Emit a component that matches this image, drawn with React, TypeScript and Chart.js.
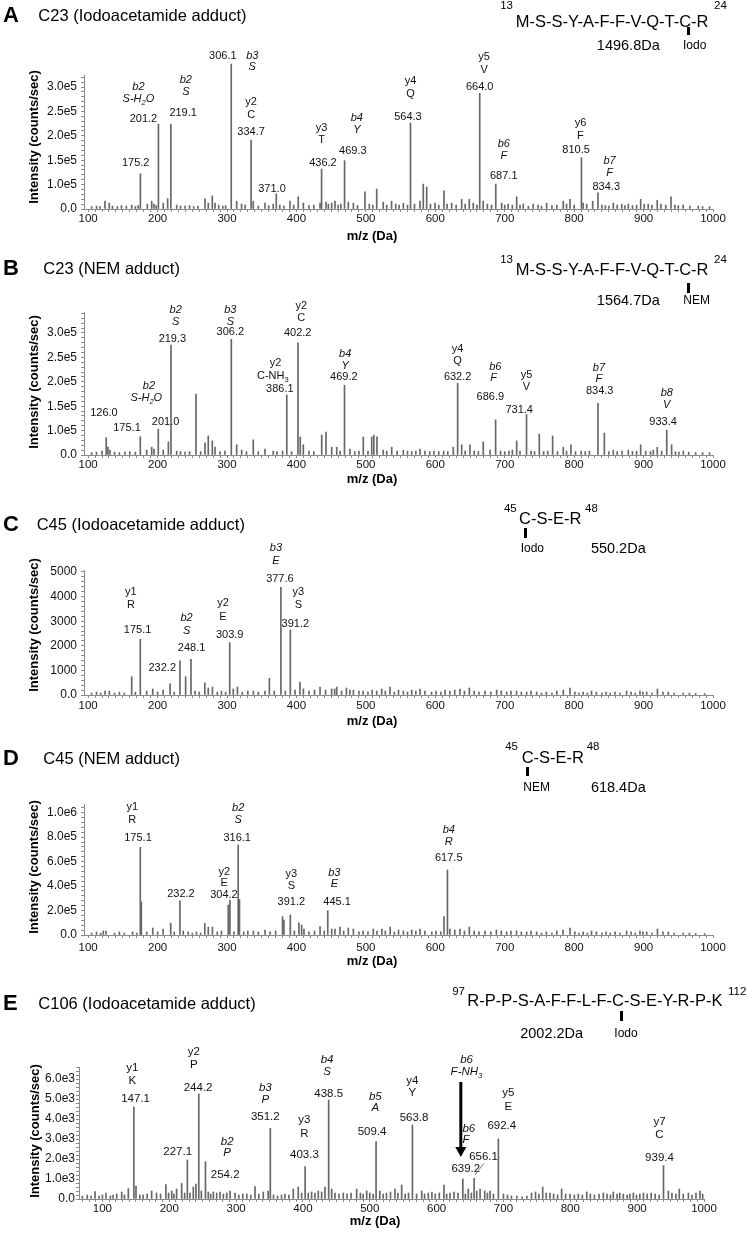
import React, { useEffect, useRef } from "react";
import { Chart, registerables } from "chart.js";
Chart.register(...registerables);

const FONT = "'Liberation Sans', Arial, Helvetica, sans-serif";
Chart.defaults.font.family = FONT;
const BAR_COLOR = "#666666";
const AXIS_COLOR = "#8a8a8a";
const X_AXIS_H = 20;

// ---------- DATA: peaks as [m/z, intensity (counts/sec)] ----------
const PEAKS_A: [number, number][] = [
  [105,0.55e5],[112,0.56e5],[117,0.55e5],[124.2,0.66e5],[130.4,0.62e5],[135,0.56e5],[142,0.55e5],[148,0.57e5],[155,0.56e5],[162.7,0.58e5],[168,0.55e5],[172,0.57e5],[175.2,1.22e5],[185.2,0.60e5],[191.5,0.66e5],[194.8,0.60e5],[198,0.57e5],[201.2,2.24e5],[208.2,0.62e5],[214.5,0.71e5],[219.1,2.24e5],[227.5,0.58e5],[233,0.56e5],[239.5,0.56e5],[246,0.57e5],[252,0.55e5],[258,0.56e5],[268.3,0.71e5],[273,0.62e5],[278.8,0.77e5],[282.7,0.62e5],[288,0.58e5],[294,0.56e5],[298,0.57e5],[306.1,3.47e5],[313.9,0.66e5],[321,0.60e5],[326,0.58e5],[334.7,1.91e5],[337.8,0.66e5],[345,0.56e5],[354.7,0.62e5],[360,0.57e5],[366.6,0.60e5],[371.0,0.81e5],[376,0.58e5],[382,0.56e5],[390.7,0.66e5],[396,0.58e5],[402.6,0.75e5],[409.9,0.62e5],[418,0.57e5],[425,0.58e5],[434,0.62e5],[436.2,1.32e5],[442.6,0.64e5],[446,0.60e5],[450.8,0.62e5],[455.5,0.66e5],[460,0.58e5],[464,0.60e5],[469.3,1.49e5],[474.7,0.64e5],[482,0.62e5],[488,0.57e5],[498.7,0.85e5],[505,0.60e5],[510,0.58e5],[515.6,0.91e5],[525,0.64e5],[530,0.58e5],[537,0.66e5],[543,0.60e5],[548,0.58e5],[554,0.62e5],[560,0.58e5],[564.3,2.26e5],[570,0.60e5],[578,0.66e5],[582.7,1.01e5],[587.6,0.95e5],[593,0.60e5],[599.5,0.62e5],[605,0.58e5],[612.5,0.87e5],[617,0.60e5],[623.6,0.62e5],[630,0.58e5],[638,0.70e5],[643,0.60e5],[649,0.70e5],[654.7,0.62e5],[660,0.58e5],[664.0,2.87e5],[669,0.66e5],[675,0.60e5],[681,0.58e5],[687.1,1.01e5],[695.6,0.62e5],[700,0.58e5],[705,0.60e5],[711,0.58e5],[717.2,0.75e5],[722,0.58e5],[726.7,0.60e5],[734,0.56e5],[741,0.60e5],[748,0.58e5],[753,0.56e5],[760.4,0.62e5],[768,0.57e5],[775,0.58e5],[784.3,0.66e5],[789,0.60e5],[794,0.70e5],[800,0.58e5],[810.5,1.55e5],[813,0.62e5],[818,0.60e5],[826.7,0.66e5],[834.3,0.83e5],[840,0.58e5],[845,0.57e5],[850,0.56e5],[856.4,0.62e5],[862,0.58e5],[868.5,0.60e5],[873,0.57e5],[878,0.60e5],[884,0.57e5],[890,0.58e5],[895.8,0.70e5],[901,0.60e5],[906.7,0.60e5],[912,0.58e5],[919.7,0.68e5],[925,0.60e5],[932,0.58e5],[939.5,0.75e5],[945,0.58e5],[950,0.57e5],[957,0.58e5],[966.8,0.56e5],[978.8,0.56e5],[985,0.55e5],[995,0.55e5]
];

const PEAKS_B: [number, number][] = [
  [105,0.55e5],[112,0.56e5],[120,0.58e5],[126.0,0.855e5],[128.5,0.66e5],[131.4,0.60e5],[138,0.56e5],[145,0.55e5],[153,0.56e5],[160,0.57e5],[168,0.56e5],[175.1,0.875e5],[184.3,0.60e5],[191.5,0.66e5],[194.8,0.62e5],[201.0,1.03e5],[208.2,0.60e5],[215.5,0.77e5],[219.3,2.75e5],[227.5,0.58e5],[233,0.57e5],[239.5,0.56e5],[246,0.57e5],[255.3,1.75e5],[262,0.57e5],[268.3,0.75e5],[273,0.89e5],[278.8,0.79e5],[282.7,0.66e5],[290,0.57e5],[297,0.58e5],[306.2,2.87e5],[313.9,0.71e5],[321.1,0.60e5],[328,0.57e5],[337.8,0.81e5],[345,0.57e5],[354.7,0.62e5],[366.6,0.58e5],[372,0.57e5],[380,0.58e5],[386.1,1.73e5],[393,0.57e5],[402.2,2.80e5],[405.5,0.87e5],[409.9,0.71e5],[418,0.58e5],[425,0.57e5],[436.4,0.91e5],[442.6,0.97e5],[450.8,0.66e5],[458,0.66e5],[463,0.58e5],[469.2,1.93e5],[477.1,0.62e5],[484,0.57e5],[490,0.58e5],[496.3,0.87e5],[503,0.58e5],[508.4,0.87e5],[511.5,0.91e5],[516,0.87e5],[525,0.60e5],[530,0.58e5],[537.2,0.66e5],[545,0.58e5],[553.9,0.60e5],[560,0.58e5],[566,0.57e5],[572,0.58e5],[578,0.62e5],[585,0.58e5],[592,0.57e5],[598,0.58e5],[605,0.57e5],[612,0.58e5],[618,0.57e5],[625.9,0.66e5],[632.2,1.97e5],[638,0.71e5],[643,0.58e5],[649.9,0.71e5],[656,0.58e5],[662,0.57e5],[669.1,0.77e5],[678.8,0.60e5],[686.9,1.22e5],[694,0.58e5],[700,0.57e5],[706,0.58e5],[711,0.60e5],[717.2,0.79e5],[722,0.58e5],[731.4,1.33e5],[738,0.58e5],[743,0.57e5],[749.8,0.93e5],[756,0.57e5],[762,0.58e5],[769,0.89e5],[776,0.57e5],[784.3,0.66e5],[789,0.58e5],[795.4,0.71e5],[802,0.57e5],[810,0.58e5],[816,0.57e5],[822,0.58e5],[834.3,1.56e5],[843.5,0.95e5],[850,0.57e5],[856.4,0.60e5],[862,0.57e5],[869,0.58e5],[878,0.60e5],[884,0.57e5],[890,0.58e5],[895.8,0.71e5],[903,0.58e5],[910,0.57e5],[914,0.60e5],[919.7,0.66e5],[926,0.58e5],[933.4,1.01e5],[940.4,0.71e5],[946,0.57e5],[951,0.56e5],[957.2,0.58e5],[965,0.56e5],[975,0.55e5],[985,0.55e5],[995,0.55e5]
];

const PEAKS_C: [number, number][] = [
  [105,80],[112,120],[118,80],[124.2,160],[130.5,160],[138,80],[145,120],[152,80],[162.7,744],[168,120],[175.1,2264],[184.3,160],[193,245],[200,120],[208,200],[218,450],[224,120],[232.2,1394],[240.4,744],[248.1,1451],[254,160],[260,120],[268,490],[273,285],[279,325],[286,120],[292,160],[298,120],[303.9,2126],[309,245],[315,325],[322,120],[330,160],[338,160],[345,120],[354.7,160],[361,680],[368,160],[377.6,4378],[384,160],[391.2,2642],[398,200],[405,530],[410,245],[418,160],[426,200],[434,325],[442,200],[450.7,245],[455,245],[458,325],[465,160],[472,285],[477,200],[482,200],[490,160],[496,160],[503,120],[509,200],[515.6,160],[522.8,245],[528,160],[534.7,325],[541,120],[547,200],[554,160],[560,120],[566,200],[572,160],[578,245],[585,160],[594.7,120],[601,160],[608,120],[614,200],[621,160],[628,200],[635.5,245],[642,160],[649,285],[656,160],[663,120],[671.6,160],[680,120],[688.4,200],[695,160],[702.8,120],[709,160],[717,160],[724,120],[731.6,120],[738,160],[746,120],[753,80],[760,120],[768,80],[775,160],[784.4,200],[794,285],[801,120],[807,80],[813,120],[819,80],[825,160],[832,120],[840,80],[846,120],[852,80],[858.8,120],[866,80],[875.6,160],[882,120],[888,80],[894.8,160],[899,120],[904.5,120],[912,80],[920,245],[928,120],[935.6,120],[944,80],[957,80],[966,80],[975,60],[988,60]
];

const PEAKS_D: [number, number][] = [
  [105,1.6e4],[112,2.5e4],[118,1.6e4],[121.8,3.3e4],[125.7,3.3e4],[138,1.6e4],[145,2.5e4],[152,1.6e4],[164,2.5e4],[170,1.6e4],[175.1,7.17e5],[176.6,2.7e5],[184.3,2.5e4],[193,5.7e4],[200,2.5e4],[208,4.9e4],[218.9,9.6e4],[224,2.5e4],[232.2,2.80e5],[237,3.3e4],[244,2.5e4],[250,1.6e4],[256,2.5e4],[262,1.6e4],[268,9.5e4],[273,6.5e4],[279,6.5e4],[286,2.5e4],[292,3.3e4],[301.8,2.45e5],[304.2,2.86e5],[310,2.5e4],[316.1,7.36e5],[318,2.9e5],[324,2.5e4],[330,3.3e4],[338,3.3e4],[345,2.5e4],[354.7,4.1e4],[362,2.5e4],[370,3.3e4],[380,1.5e5],[382,1.23e5],[391.2,1.64e5],[397,3.3e4],[403.6,1.0e5],[407.5,8.2e4],[410.9,4.9e4],[418,2.5e4],[426,3.3e4],[434,6.8e4],[440,3.3e4],[445.1,1.99e5],[450.8,4.9e4],[455.5,4.9e4],[462.7,6.5e4],[468,3.3e4],[474.7,5.7e4],[482,4.9e4],[490,2.5e4],[496,3.3e4],[503,2.5e4],[510.7,4.9e4],[516,3.3e4],[523,4.9e4],[528,3.3e4],[535,6.5e4],[541,2.5e4],[547,4.1e4],[554,3.3e4],[560,2.5e4],[566,4.1e4],[572,3.3e4],[578,4.9e4],[585,3.3e4],[595,2.5e4],[601,3.3e4],[608,2.5e4],[612.5,1.5e5],[617.5,5.32e5],[621,4.9e4],[628,4.1e4],[635.5,4.9e4],[642,3.3e4],[649,6.5e4],[656,3.3e4],[663,2.5e4],[671.6,3.3e4],[680,2.5e4],[688,4.1e4],[695,3.3e4],[702.8,2.5e4],[709,3.3e4],[717,3.3e4],[724,2.5e4],[731.6,2.5e4],[738,3.3e4],[746,2.5e4],[753,1.6e4],[760,2.5e4],[768,1.6e4],[775,3.3e4],[784,4.1e4],[794,5.7e4],[801,2.5e4],[807,1.6e4],[813,2.5e4],[819,1.6e4],[825,3.3e4],[832,2.5e4],[840,1.6e4],[846,2.5e4],[852,1.6e4],[859,2.5e4],[866,1.6e4],[875.6,3.3e4],[882,2.5e4],[888,1.6e4],[894.8,3.3e4],[899,2.5e4],[904.5,2.5e4],[912,1.6e4],[920,4.9e4],[928,2.5e4],[935.6,2.5e4],[944,1.6e4],[957,1.6e4],[966,1.6e4],[975,1.2e4],[988,1.2e4]
];

const PEAKS_E: [number, number][] = [
  [70,150],[77.4,200],[83,150],[89,365],[95,150],[100,200],[105.4,300],[112,150],[116,200],[121.4,250],[128.9,350],[133,200],[138.8,520],[147.1,4600],[150.3,650],[156,200],[161,200],[167,250],[173.7,400],[181,300],[187,250],[195,720],[199,300],[203.7,400],[207,250],[211,500],[218.6,780],[223,300],[227.1,1950],[231,300],[236,600],[240,750],[244.2,5250],[248,400],[254.2,1870],[258.4,350],[262,250],[266,350],[271,300],[276,350],[281,250],[286,300],[291,400],[298.4,300],[304,200],[310,250],[316,250],[322,200],[328.3,620],[334,250],[340.7,350],[348,400],[351.2,3530],[356,200],[362,150],[368,200],[373,250],[379,200],[385.6,500],[393,600],[398,300],[403.3,1620],[408,300],[413,350],[418,300],[423,400],[428,350],[433,600],[438.5,4950],[443,500],[448,300],[454,250],[460.4,300],[466,250],[472,300],[480.4,500],[486,300],[490,250],[495.4,400],[500,300],[505,250],[509.4,2870],[515,400],[520,250],[525,300],[531,350],[537.7,500],[542,300],[547.7,700],[553,250],[558,300],[563.8,3700],[570,250],[577.7,400],[582,250],[587.6,300],[593,350],[598,250],[604,300],[611,700],[615,250],[620,300],[626,350],[632,300],[639.2,1000],[643,250],[647.4,500],[652,300],[656.1,1030],[660,400],[665,500],[672,400],[676,300],[680,400],[685,250],[692.4,3000],[700,250],[706,200],[712,150],[720,150],[728,100],[735,150],[742,300],[748,350],[753,250],[758.7,600],[764,300],[769.6,300],[775,250],[781,200],[787,500],[793,250],[799.6,250],[806,200],[812,250],[818,200],[824.6,350],[830,250],[836,200],[843,250],[849.4,300],[855,250],[860,200],[864.3,350],[870,250],[874,300],[879.3,250],[885,200],[889,250],[894.3,300],[899,200],[904,250],[909.4,300],[915,250],[921,300],[927,250],[933,200],[939.4,1670],[946.7,400],[952,300],[958,250],[963,500],[969,250],[976.6,300],[982,200],[988,300],[994,400],[998,250]
];

// ---------- tick labels ----------
const X_TICKS = [100, 200, 300, 400, 500, 600, 700, 800, 900, 1000];
const X_TICK_LABELS = ["100", "200", "300", "400", "500", "600", "700", "800", "900", "1000"];
const Y_TICKS_AB = [0.5e5, 1.0e5, 1.5e5, 2.0e5, 2.5e5, 3.0e5];
const Y_LABELS_AB = ["0.0", "1.0e5", "1.5e5", "2.0e5", "2.5e5", "3.0e5"];
const Y_TICKS_C = [0, 1000, 2000, 3000, 4000, 5000];
const Y_LABELS_C = ["0.0", "1000", "2000", "3000", "4000", "5000"];
const Y_TICKS_D = [0, 2e5, 4e5, 6e5, 8e5, 1e6];
const Y_LABELS_D = ["0.0", "2.0e5", "4.0e5", "6.0e5", "8.0e5", "1.0e6"];
const Y_TICKS_E = [0, 1000, 2000, 3000, 4000, 5000, 6000];
const Y_LABELS_E = ["0.0", "1.0e3", "2.0e3", "3.0e3", "4.0e3", "5.0e3", "6.0e3"];

// ---------- peak annotations (text, dx, dy from peak top, italic) ----------
type Line = [string, number, number, number?];
type Ann = { mz: number; lines: Line[] };
const ANN_A: Ann[] = [
  { mz: 175.2, lines: [["175.2", -4.7, -11]] },
  { mz: 201.2, lines: [["b2", -20, -36.7, 1], ["S-H_2O", -20, -24.7, 1], ["201.2", -15, -5]] },
  { mz: 219.1, lines: [["b2", 15, -44, 1], ["S", 15, -32.3, 1], ["219.1", 12.3, -10.7]] },
  { mz: 306.1, lines: [["306.1", -8.4, -8], ["b3", 21, -8, 1], ["S", 21, 2.7, 1]] },
  { mz: 334.7, lines: [["y2", 0, -38.3], ["C", 0, -25.7], ["334.7", 0, -8.3]] },
  { mz: 371.0, lines: [["371.0", -4.3, -5]] },
  { mz: 436.2, lines: [["y3", 0, -41.3], ["T", 0, -29], ["436.2", 1.4, -5.7]] },
  { mz: 469.3, lines: [["b4", 12.3, -42.4, 1], ["Y", 12.3, -30.7, 1], ["469.3", 8.3, -10]] },
  { mz: 564.3, lines: [["y4", 0, -42.6], ["Q", 0, -29], ["564.3", -2.6, -6]] },
  { mz: 664.0, lines: [["y5", 4.4, -36.6], ["V", 4.4, -23.3], ["664.0", 0, -6.6]] },
  { mz: 687.1, lines: [["b6", 8, -40, 1], ["F", 8, -28, 1], ["687.1", 8, -8.3]] },
  { mz: 810.5, lines: [["y6", -1, -34.7], ["F", -1, -21.3], ["810.5", -5.3, -7.3]] },
  { mz: 834.3, lines: [["b7", 11.6, -32.3, 1], ["F", 11.6, -20.3, 1], ["834.3", 8.3, -5.7]] },
];
const ANN_B: Ann[] = [
  { mz: 126.0, lines: [["126.0", -2.3, -24.4]] },
  { mz: 175.1, lines: [["175.1", -13.3, -9]] },
  { mz: 201.0, lines: [["b2", -9.3, -43.3, 1], ["S-H_2O", -12, -31, 1], ["201.0", 7.3, -7.6]] },
  { mz: 219.3, lines: [["b2", 4.7, -35, 1], ["S", 4.7, -23.3, 1], ["219.3", 1.4, -6.7]] },
  { mz: 306.2, lines: [["b3", -1, -29.3, 1], ["S", -1, -17.6, 1], ["306.2", -1, -7.6]] },
  { mz: 386.1, lines: [["y2", -11.3, -32.3], ["C-NH_3", -14, -19], ["386.1", -7, -6]] },
  { mz: 402.2, lines: [["y2", 3.3, -36.7], ["C", 3.3, -24.4], ["402.2", -0.3, -9.4]] },
  { mz: 469.2, lines: [["b4", 0.7, -31, 1], ["Y", 0.7, -19, 1], ["469.2", -0.6, -8.3]] },
  { mz: 632.2, lines: [["y4", 0, -34.3], ["Q", 0, -22.3], ["632.2", 0, -6.6]] },
  { mz: 686.9, lines: [["b6", -0.3, -53.3, 1], ["F", -2, -42, 1], ["686.9", -5.3, -23.3]] },
  { mz: 731.4, lines: [["y5", 0, -39.3], ["V", 0, -27.3], ["731.4", -7.3, -5]] },
  { mz: 834.3, lines: [["b7", 1, -35.6, 1], ["F", 1, -24.3, 1], ["834.3", 1.7, -12.3]] },
  { mz: 933.4, lines: [["b8", 0, -36.7, 1], ["V", 0, -24.7, 1], ["933.4", -3.7, -8.3]] },
];
const ANN_C: Ann[] = [
  { mz: 175.1, lines: [["y1", -9.4, -47], ["R", -9.4, -34.3], ["175.1", -2.7, -9.3]] },
  { mz: 232.2, lines: [["232.2", -17.7, 7]] },
  { mz: 248.1, lines: [["b2", -4.4, -41, 1], ["S", -4.4, -28.3, 1], ["248.1", 0.6, -11]] },
  { mz: 303.9, lines: [["y2", -6.7, -39.4], ["E", -6.7, -26], ["303.9", 0, -7.7]] },
  { mz: 377.6, lines: [["b3", -5, -39.6, 1], ["E", -5, -26.3, 1], ["377.6", -1, -8]] },
  { mz: 391.2, lines: [["y3", 8, -38.3], ["S", 8, -25], ["391.2", 5, -5.7]] },
];
const ANN_D: Ann[] = [
  { mz: 175.1, lines: [["y1", -8, -40], ["R", -8, -27.3], ["175.1", -2.3, -9]] },
  { mz: 232.2, lines: [["232.2", 1, -6.7]] },
  { mz: 304.2, lines: [["y2", -5.7, -28.3], ["E", -5.7, -16.7], ["304.2", -6, -5]] },
  { mz: 316.1, lines: [["b2", 0, -36.7, 1], ["S", 0, -25, 1], ["316.1", -1, -6.7]] },
  { mz: 391.2, lines: [["y3", 1, -41], ["S", 1, -29.3], ["391.2", 1, -12.7]] },
  { mz: 445.1, lines: [["b3", 6.6, -38, 1], ["E", 6.6, -26.4, 1], ["445.1", 9.3, -8.4]] },
  { mz: 617.5, lines: [["b4", 1.3, -40, 1], ["R", 1.3, -28.3, 1], ["617.5", 1.3, -11.7]] },
];
const ANN_E: Ann[] = [
  { mz: 147.1, lines: [["y1", -1.6, -38.7], ["K", -1.6, -26], ["147.1", 1.7, -7.7]] },
  { mz: 227.1, lines: [["227.1", -9.7, -8.3]] },
  { mz: 244.2, lines: [["y2", -5, -41.7], ["P", -5, -29], ["244.2", -0.7, -6.3]] },
  { mz: 254.2, lines: [["b2", 21.7, -20, 1], ["P", 21.7, -8.4, 1], ["254.2", 19.7, 13.3]] },
  { mz: 351.2, lines: [["b3", -5, -40.6, 1], ["P", -5, -29, 1], ["351.2", -5, -11.6]] },
  { mz: 403.3, lines: [["y3", -0.7, -46.7], ["R", -0.7, -32.4], ["403.3", -0.7, -11.7]] },
  { mz: 438.5, lines: [["b4", -1.6, -40, 1], ["S", -1.6, -28.3, 1], ["438.5", 0, -6]] },
  { mz: 509.4, lines: [["b5", -0.7, -45, 1], ["A", -0.7, -33.4, 1], ["509.4", -4, -10]] },
  { mz: 563.8, lines: [["y4", 0, -44], ["Y", 0, -31.7], ["563.8", 1.6, -7.3]] },
  { mz: 639.2, lines: [["b6", 3.7, -119, 1], ["F-NH_3", 3.7, -107.3, 1], ["639.2", 3, -10]] },
  { mz: 656.1, lines: [["b6", -5.3, -50, 1], ["F", -8, -38.3, 1], ["656.1", 9.4, -21.6]] },
  { mz: 692.4, lines: [["y5", 10, -45.7], ["E", 10, -32.3], ["692.4", 3.4, -13.3]] },
  { mz: 939.4, lines: [["y7", -4, -44], ["C", -4, -30.7], ["939.4", -4, -7.4]] },
];
type Extra = { kind: "arrow" | "line"; mz: number; x1: number; y1: number; x2: number; y2: number };
const EXTRA_E: Extra[] = [
  { kind: "arrow", mz: 639.2, x1: -2, y1: -97, x2: -2, y2: -22 },
  { kind: "line", mz: 656.1, x1: 0.7, y1: -3.3, x2: 9.7, y2: -15 },
];

// ---------- panel layout ----------
type Panel = {
  key: string; top: number; h: number; left: number; right: number; chartTop: number; chartBottom: number;
  xMin: number; xMax: number; xMinorStart: number; yMin: number; yMax: number; yMinor: number;
  yTicks: number[]; yLabels: string[]; peaks: [number, number][]; ann: Ann[]; extras: Extra[];
  labelSize: number; xPad: number; yPad: number;
};
const PANELS: Panel[] = [
  { key: "A", top: 0, h: 240, left: 84, right: 713, chartTop: 75, chartBottom: 209, xMin: 94, xMax: 1000, xMinorStart: 100, yMin: 0.5e5, yMax: 3.246e5, yMinor: 0.1e5, yTicks: Y_TICKS_AB, yLabels: Y_LABELS_AB, peaks: PEAKS_A, ann: ANN_A, extras: [], labelSize: 11, xPad: 0, yPad: 4 },
  { key: "B", top: 240, h: 240, left: 84, right: 713, chartTop: 312, chartBottom: 455, xMin: 94, xMax: 1000, xMinorStart: 100, yMin: 0.5e5, yMax: 3.43e5, yMinor: 0.1e5, yTicks: Y_TICKS_AB, yLabels: Y_LABELS_AB, peaks: PEAKS_B, ann: ANN_B, extras: [], labelSize: 11, xPad: 0, yPad: 4 },
  { key: "C", top: 485, h: 240, left: 84, right: 713, chartTop: 570, chartBottom: 695, xMin: 94, xMax: 1000, xMinorStart: 100, yMin: 0, yMax: 5081, yMinor: 200, yTicks: Y_TICKS_C, yLabels: Y_LABELS_C, peaks: PEAKS_C, ann: ANN_C, extras: [], labelSize: 11, xPad: 1, yPad: 4 },
  { key: "D", top: 730, h: 240, left: 84, right: 713, chartTop: 804, chartBottom: 935, xMin: 94, xMax: 1000, xMinorStart: 100, yMin: 0, yMax: 1.071e6, yMinor: 0.4e5, yTicks: Y_TICKS_D, yLabels: Y_LABELS_D, peaks: PEAKS_D, ann: ANN_D, extras: [], labelSize: 11, xPad: 3, yPad: 4 },
  { key: "E", top: 975, h: 260, left: 79, right: 704, chartTop: 1067, chartBottom: 1199, xMin: 65, xMax: 1000, xMinorStart: 70, yMin: 0, yMax: 6600, yMinor: 200, yTicks: Y_TICKS_E, yLabels: Y_LABELS_E, peaks: PEAKS_E, ann: ANN_E, extras: EXTRA_E, labelSize: 11.5, xPad: 0, yPad: 1 },
];

function drawRich(ctx: CanvasRenderingContext2D, text: string, cx: number, cy: number, size: number, italic: boolean) {
  const segs: { t: string; sub: boolean; w?: number }[] = [];
  for (let i = 0; i < text.length; i++) {
    if (text[i] === "_") { segs.push({ t: text[i + 1], sub: true }); i++; }
    else if (segs.length && !segs[segs.length - 1].sub) segs[segs.length - 1].t += text[i];
    else segs.push({ t: text[i], sub: false });
  }
  const fontFor = (s: { sub: boolean }) => `${italic ? "italic " : ""}${s.sub ? size * 0.68 : size}px ${FONT}`;
  let w = 0;
  for (const s of segs) { ctx.font = fontFor(s); s.w = ctx.measureText(s.t).width; w += s.w; }
  let xx = cx - w / 2;
  ctx.textAlign = "left";
  ctx.textBaseline = "middle";
  for (const s of segs) { ctx.font = fontFor(s); ctx.fillText(s.t, xx, cy + (s.sub ? size * 0.32 : 0)); xx += s.w || 0; }
}

function labelPlugin(P: Panel) {
  return {
    id: "peakLabels" + P.key,
    afterDatasetsDraw(chart: any) {
      const ctx: CanvasRenderingContext2D = chart.ctx;
      const xs = chart.scales.x, ys = chart.scales.y;
      const top = (mz: number) => {
        const p = P.peaks.find((q) => q[0] === mz);
        return { px: xs.getPixelForValue(mz), py: ys.getPixelForValue(p ? p[1] : P.yMin) };
      };
      ctx.save();
      ctx.fillStyle = "#111";
      for (const a of P.ann) {
        const { px, py } = top(a.mz);
        for (const [t, dx, dy, it] of a.lines) drawRich(ctx, t, px + dx, py + dy, P.labelSize, !!it);
      }
      for (const e of P.extras) {
        const { px, py } = top(e.mz);
        if (e.kind === "arrow") {
          ctx.strokeStyle = "#000"; ctx.lineWidth = 3;
          ctx.beginPath(); ctx.moveTo(px + e.x1, py + e.y1); ctx.lineTo(px + e.x2, py + e.y2 - 8); ctx.stroke();
          ctx.fillStyle = "#000";
          ctx.beginPath();
          ctx.moveTo(px + e.x2 - 5.5, py + e.y2 - 10);
          ctx.lineTo(px + e.x2 + 5.5, py + e.y2 - 10);
          ctx.lineTo(px + e.x2, py + e.y2);
          ctx.closePath(); ctx.fill();
          ctx.fillStyle = "#111";
        } else {
          ctx.strokeStyle = "#555"; ctx.lineWidth = 0.8;
          ctx.beginPath(); ctx.moveTo(px + e.x1, py + e.y1); ctx.lineTo(px + e.x2, py + e.y2); ctx.stroke();
        }
      }
      ctx.restore();
    },
  };
}

function PanelChart({ P }: { P: Panel }) {
  const ref = useRef<HTMLCanvasElement | null>(null);
  useEffect(() => {
    if (!ref.current) return;
    const xTickVals: number[] = [];
    for (let v = P.xMinorStart; v <= P.xMax; v += 10) xTickVals.push(v);
    const yTickVals: number[] = [];
    for (let k = 0; P.yMin + k * P.yMinor <= P.yMax + 1e-9; k++) yTickVals.push(P.yMin + k * P.yMinor);
    const xLabel = (v: number) => { const i = X_TICKS.findIndex((t) => Math.abs(t - v) < 0.01); return i >= 0 ? X_TICK_LABELS[i] : ""; };
    const yLabel = (v: number) => { const i = P.yTicks.findIndex((t) => Math.abs(t - v) < P.yMinor * 0.01); return i >= 0 ? P.yLabels[i] : ""; };
    const grid = { display: true, drawOnChartArea: false, drawTicks: true, tickLength: 3, color: AXIS_COLOR, offset: false };
    const chart = new Chart(ref.current, {
      type: "bar",
      data: {
        datasets: [{
          data: P.peaks.map(([x, y]) => ({ x, y })) as any,
          backgroundColor: BAR_COLOR,
          borderWidth: 0,
          barThickness: 1,
          base: P.yMin,
          clip: false as any,
          grouped: false,
        } as any],
      },
      options: {
        animation: false,
        responsive: false,
        devicePixelRatio: 1,
        events: [],
        layout: {
          autoPadding: false,
          padding: { left: 0, right: 747 - P.right, top: P.chartTop - P.top, bottom: P.h - (P.chartBottom - P.top) - X_AXIS_H },
        },
        plugins: { legend: { display: false }, tooltip: { enabled: false }, title: { display: false } },
        scales: {
          x: {
            type: "linear", min: P.xMin, max: P.xMax, offset: false,
            afterFit: (s: any) => { s.height = X_AXIS_H; },
            afterBuildTicks: (s: any) => { s.ticks = xTickVals.map((value) => ({ value })); },
            ticks: { autoSkip: false, maxRotation: 0, minRotation: 0, padding: P.xPad, color: "#111", font: { size: 11.5, family: FONT }, callback: (v: any) => xLabel(Number(v)) },
            grid, border: { display: true, color: AXIS_COLOR, width: 1 },
          },
          y: {
            type: "linear", min: P.yMin, max: P.yMax,
            afterFit: (s: any) => { s.width = P.left; },
            afterBuildTicks: (s: any) => { s.ticks = yTickVals.map((value) => ({ value })); },
            ticks: { autoSkip: false, padding: P.yPad, color: "#111", font: { size: 12, family: FONT }, callback: (v: any) => yLabel(Number(v)) },
            grid, border: { display: true, color: AXIS_COLOR, width: 1 },
          },
        },
      } as any,
      plugins: [labelPlugin(P)],
    });
    return () => chart.destroy();
  }, [P]);
  return <canvas ref={ref} width={747} height={P.h} style={{ position: "absolute", left: 0, top: P.top, width: 747, height: P.h }} />;
}

function T({ x, y, s, b, i, a = "m", children }: { x: number; y: number; s: number; b?: boolean; i?: boolean; a?: string; children: any }) {
  const tx = a === "s" ? "0" : a === "e" ? "-100%" : "-50%";
  return (
    <div style={{ position: "absolute", left: x, top: y, fontSize: s, fontWeight: b ? "bold" : "normal", fontStyle: i ? "italic" : "normal", fontFamily: FONT, lineHeight: 1, whiteSpace: "nowrap", color: "#000", transform: `translate(${tx}, -50%)` }}>
      {children}
    </div>
  );
}
function YTitle({ x, y }: { x: number; y: number }) {
  return (
    <div style={{ position: "absolute", left: x, top: y, fontSize: 13, fontWeight: "bold", fontFamily: FONT, lineHeight: 1, whiteSpace: "nowrap", color: "#000", transform: "translate(-50%, -50%) rotate(-90deg)" }}>
      Intensity (counts/sec)
    </div>
  );
}
function Bar({ x, y1, y2 }: { x: number; y1: number; y2: number }) {
  return <div style={{ position: "absolute", left: x - 1.5, top: y1, width: 3, height: y2 - y1, background: "#000" }} />;
}

export default function App() {
  return (
    <div style={{ position: "absolute", left: 0, top: 0, width: 747, height: 1235, background: "#fff", overflow: "hidden" }}>
      {PANELS.map((P) => <PanelChart key={P.key} P={P} />)}

      {/* Panel A */}
      <T x={3} y={15} s={22} b a="s">A</T>
      <T x={38.3} y={15.3} s={16.5} a="s">C23 (Iodoacetamide adduct)</T>
      <T x={515.7} y={21} s={16.5} a="s">M-S-S-Y-A-F-F-V-Q-T-C-R</T>
      <T x={513} y={6} s={11.5} a="e">13</T>
      <T x={714} y={6} s={11.5} a="s">24</T>
      <Bar x={688.3} y1={27} y2={35} />
      <T x={683} y={45} s={12} a="s">Iodo</T>
      <T x={628.3} y={45} s={14.5}>1496.8Da</T>
      <YTitle x={33} y={136.5} />
      <T x={372} y={235} s={13} b>m/z (Da)</T>

      {/* Panel B */}
      <T x={3} y={268} s={22} b a="s">B</T>
      <T x={43.3} y={268} s={16.5} a="s">C23 (NEM adduct)</T>
      <T x={515.7} y={269.3} s={16.5} a="s">M-S-S-Y-A-F-F-V-Q-T-C-R</T>
      <T x={513} y={260} s={11.5} a="e">13</T>
      <T x={714} y={260} s={11.5} a="s">24</T>
      <Bar x={688.3} y1={283.3} y2={292.7} />
      <T x={683.3} y={300} s={12} a="s">NEM</T>
      <T x={628.3} y={300} s={14.5}>1564.7Da</T>
      <YTitle x={33} y={381.7} />
      <T x={372} y={478} s={13} b>m/z (Da)</T>

      {/* Panel C */}
      <T x={3} y={524} s={22} b a="s">C</T>
      <T x={36.7} y={524.3} s={16.5} a="s">C45 (Iodoacetamide adduct)</T>
      <T x={519} y={518.3} s={16.5} a="s">C-S-E-R</T>
      <T x={516.7} y={509} s={11.5} a="e">45</T>
      <T x={585} y={509} s={11.5} a="s">48</T>
      <Bar x={525} y1={528} y2={538} />
      <T x={520.7} y={548.3} s={12} a="s">Iodo</T>
      <T x={618.3} y={548.3} s={14.5}>550.2Da</T>
      <YTitle x={33} y={625} />
      <T x={372} y={720} s={13} b>m/z (Da)</T>

      {/* Panel D */}
      <T x={3} y={758} s={22} b a="s">D</T>
      <T x={43.3} y={758.3} s={16.5} a="s">C45 (NEM adduct)</T>
      <T x={521.7} y={756.7} s={16.5} a="s">C-S-E-R</T>
      <T x={518} y={746.7} s={11.5} a="e">45</T>
      <T x={586.7} y={746.7} s={11.5} a="s">48</T>
      <Bar x={527.3} y1={766.7} y2={776} />
      <T x={523.3} y={786.7} s={12} a="s">NEM</T>
      <T x={618.3} y={786.7} s={14.5}>618.4Da</T>
      <YTitle x={33} y={866.7} />
      <T x={372} y={960} s={13} b>m/z (Da)</T>

      {/* Panel E */}
      <T x={3} y={1003} s={22} b a="s">E</T>
      <T x={38.3} y={1003.3} s={16.5} a="s">C106 (Iodoacetamide adduct)</T>
      <T x={467.3} y={1000} s={16.5} a="s">R-P-P-S-A-F-F-L-F-C-S-E-Y-R-P-K</T>
      <T x={465} y={991.7} s={11.5} a="e">97</T>
      <T x={728} y={991.7} s={11.5} a="s">112</T>
      <Bar x={621.7} y1={1011} y2={1021} />
      <T x={614.3} y={1033.3} s={12} a="s">Iodo</T>
      <T x={551.7} y={1033.3} s={14.5}>2002.2Da</T>
      <YTitle x={34} y={1130.8} />
      <T x={375} y={1220} s={13} b>m/z (Da)</T>
    </div>
  );
}
